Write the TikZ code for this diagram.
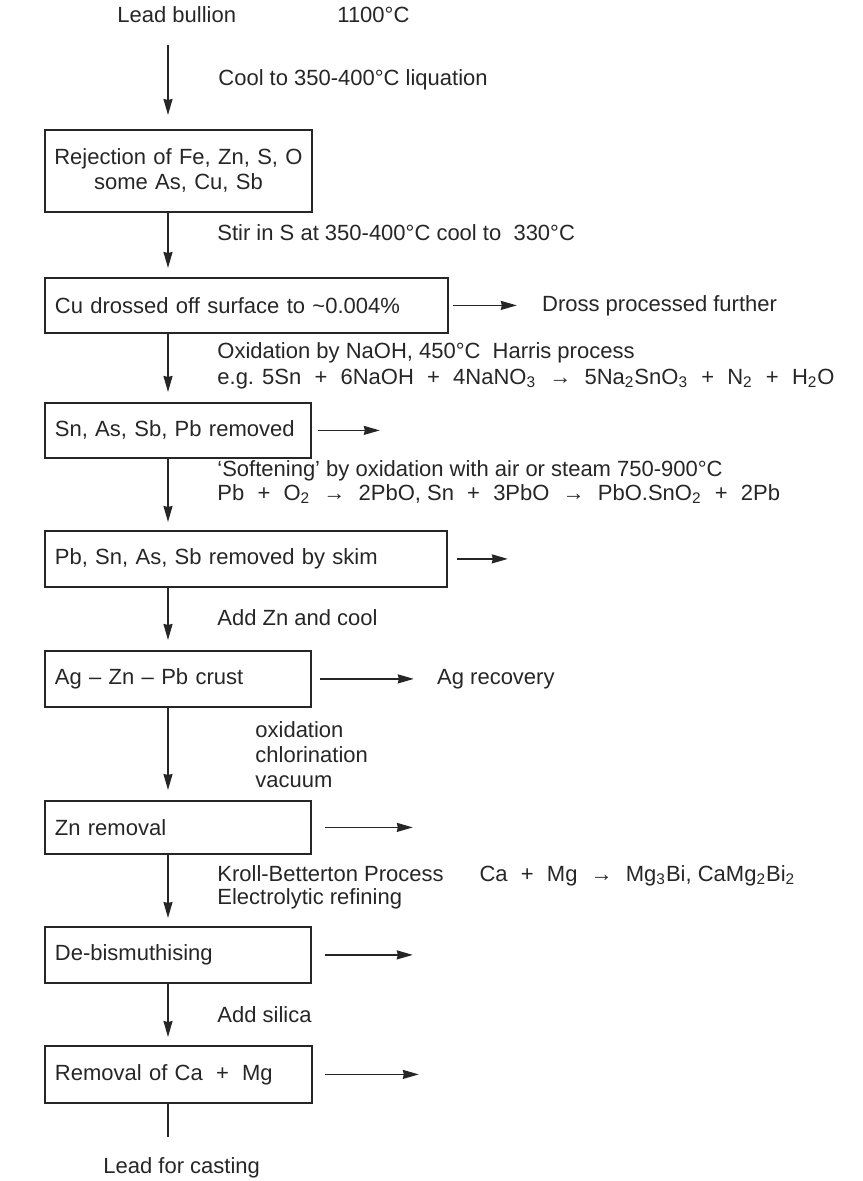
\documentclass[tikz,border=0pt]{standalone}
\usepackage{fontspec}
\setmainfont{Liberation Sans}
\usetikzlibrary{arrows.meta,positioning}

\newcommand{\pl}{\hspace{0.6em}+\hspace{0.6em}}
\newcommand{\yields}{\hspace{0.6em}→\hspace{0.6em}}
\newcommand{\sub}[1]{\textsubscript{#1}}

\tikzset{
  stage/.style={draw, line width=0.9pt, anchor=north west, inner xsep=5pt, inner ysep=2pt,
    minimum height=28pt, text width=#1, align=left},
  flow/.style={-{Stealth[length=8pt,width=4.5pt,inset=0.5pt]}, line width=0.75pt},
  remark/.style={anchor=west, inner sep=0pt, align=left}
}

\begin{document}
\begin{tikzpicture}[x=0.5pt, y=-0.5pt, font=\fontsize{11pt}{12.5pt}\selectfont, color=black!85]
\useasboundingbox (0,0) rectangle (862,1181);
\coordinate (spine) at (168,0);

% refining stages
\node[stage=131.5pt, inner xsep=1pt, align=center, minimum height=41pt] (rej) at (44,129)
{Rejection of Fe, Zn, S, O\\some As, Cu, Sb};
\node[stage=191.5pt, minimum height=27.5pt] (cu) at (44,277) {Cu drossed off surface to \textasciitilde0.004\%};
\node[stage=123pt, minimum height=27.5pt] (sn) at (44,402) {Sn, As, Sb, Pb removed};
\node[stage=191pt] (skim) at (44,530) {Pb, Sn, As, Sb removed by skim};
\node[stage=123pt] (crust) at (44,650) {Ag -- Zn -- Pb crust};
\node[stage=123pt, minimum height=26.5pt] (zn) at (44,800) {Zn removal};
\node[stage=123pt] (bi) at (44,926) {De-bismuthising};
\node[stage=123.5pt, minimum height=28.5pt] (camg) at (44,1045) {Removal of Ca\pl Mg};

% texts along the flow
\node[remark] (lead) at (117,15) {Lead bullion};
\node[remark] (temp) at (337,15) {1100°C};
\node[remark] (cool) at (218,80) {Cool to 350-400°C liquation};
\node[remark] (stir) at (217,233) {Stir in S at 350-400°C cool to\ \ 330°C};
\node[remark, font=\fontsize{11pt}{13pt}\selectfont] (oxid) at (217,366)
{Oxidation by NaOH, 450°C\ \ Harris process\\e.g. 5Sn\pl 6NaOH\pl 4NaNO\sub{3}\yields 5Na\sub{2}SnO\sub{3}\pl N\sub{2}\pl H\sub{2}O};
\node[remark, font=\fontsize{11pt}{12pt}\selectfont] (soft) at (217,482)
{‘Softening’ by oxidation with air or steam 750-900°C\\Pb\pl O\sub{2}\yields 2PbO, Sn\pl 3PbO\yields PbO.SnO\sub{2}\pl 2Pb};
\node[remark] (addzn) at (217,618) {Add Zn and cool};
\node[remark] (ocv) at (255,755) {oxidation\\chlorination\\vacuum};
\node[remark, font=\fontsize{11pt}{11.5pt}\selectfont] (kroll) at (217,887)
{Kroll-Betterton Process\hspace{18pt}Ca\pl Mg\yields Mg\sub{3}Bi, CaMg\sub{2}Bi\sub{2}\\Electrolytic refining};
\node[remark] (silica) at (217,1015) {Add silica};
\node[remark] (cast) at (103,1168) {Lead for casting};

% side products
\node[remark, right=46.5pt of cu] (dross) {Dross processed further};
\node[remark, right=62.5pt of crust] (agrec) {Ag recovery};
\coordinate[right=34pt of sn.east] (sn-out);
\coordinate[right=30pt of skim.east] (skim-out);
\coordinate[right=50.5pt of zn.east] (zn-out);
\coordinate[right=50.5pt of bi.east] (bi-out);
\coordinate[right=53pt of camg.east] (camg-out);

% main line
\draw[flow, shorten <=11pt, shorten >=7pt] (lead.south -| spine) -- (rej.north -| spine);
\draw[flow, shorten >=4.5pt] (rej.south -| spine) -- (cu.north -| spine);
\draw[flow, shorten >=5pt] (cu.south -| spine) -- (sn.north -| spine);
\draw[flow, shorten >=4pt] (sn.south -| spine) -- (skim.north -| spine);
\draw[flow, shorten >=5pt] (skim.south -| spine) -- (crust.north -| spine);
\draw[flow, shorten >=5pt] (crust.south -| spine) -- (zn.north -| spine);
\draw[flow, shorten >=4pt] (zn.south -| spine) -- (bi.north -| spine);
\draw[flow, shorten >=4pt] (bi.south -| spine) -- (camg.north -| spine);
\draw[line width=0.75pt, shorten >=10pt] (camg.south -| spine) -- (cast.north -| spine);

% outlets
\draw[flow, shorten <=2pt, shorten >=12.5pt] (cu.east) -- (dross.west);
\draw[flow, shorten <=3pt] (sn.east) -- (sn-out);
\draw[flow, shorten <=4.5pt] (skim.east) -- (skim-out);
\draw[flow, shorten <=4pt, shorten >=11.5pt] (crust.east) -- (agrec.west);
\draw[flow, shorten <=6.5pt] (zn.east) -- (zn-out);
\draw[flow, shorten <=6.5pt] (bi.east) -- (bi-out);
\draw[flow, shorten <=6pt] (camg.east) -- (camg-out);
\end{tikzpicture}
\end{document}
